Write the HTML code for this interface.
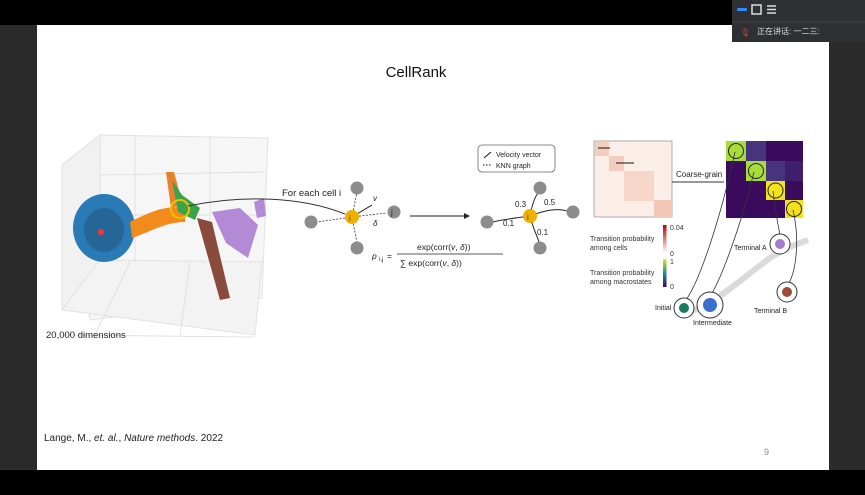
<!DOCTYPE html>
<html><head><meta charset="utf-8"><style>
html,body{margin:0;padding:0;background:#000;}
body{width:865px;height:495px;overflow:hidden;position:relative;font-family:"Liberation Sans","Noto Sans CJK SC",sans-serif;}
svg{position:absolute;left:0;top:0;}
</style></head><body>
<svg width="865" height="495" viewBox="0 0 865 495">
<rect x="0" y="0" width="865" height="495" fill="#000"/>
<rect x="0" y="25" width="37" height="445" fill="#2a2a2a"/>
<rect x="829" y="25" width="36" height="445" fill="#2b2b2b"/>
<rect x="37" y="25" width="792" height="445" fill="#fff"/>
<text x="416" y="77" font-size="15" text-anchor="middle" fill="#111">CellRank</text>

<g>
<polygon points="62,165 100,135 268,138 262,298 90,320" fill="#f6f6f6" stroke="#e2e2e2"/>
<polygon points="62,165 100,135 100,260 62,310" fill="#f1f1f1" stroke="#e2e2e2"/>
<polygon points="62,310 100,260 262,262 255,335" fill="#f3f3f3" stroke="#e2e2e2"/>
<g stroke="#dcdcdc" stroke-width="0.8" fill="none">
<line x1="135" y1="135" x2="135" y2="262"/><line x1="210" y1="136" x2="210" y2="262"/>
<line x1="100" y1="175" x2="265" y2="172"/><line x1="100" y1="215" x2="264" y2="215"/>
<line x1="62" y1="335" x2="255" y2="337"/><line x1="95" y1="335" x2="130" y2="262"/><line x1="180" y1="336" x2="190" y2="262"/>
</g>
<ellipse cx="104" cy="228" rx="31" ry="34" fill="#2a7ab5"/>
<ellipse cx="104" cy="230" rx="20" ry="22" fill="#1f4e72" opacity="0.45"/>
<path d="M130 222 C150 212,165 205,185 208 L185 222 C165 222,150 232,132 238 Z" fill="#f28a1c"/>
<path d="M166 172 L174 172 L183 205 L171 208 Z" fill="#e8812a"/>
<path d="M172 180 L182 195 L200 208 L195 220 L178 212 Z" fill="#3ba34a"/>
<path d="M197 218 L212 222 L230 298 L220 300 Z" fill="#8a4a3c"/>
<path d="M212 212 L240 208 L258 225 L248 258 L226 243 Z" fill="#b28ad6"/>
<path d="M254 202 L264 198 L266 216 L257 218 Z" fill="#b28ad6"/>
<circle cx="101" cy="232" r="3" fill="#f33"/>
<circle cx="180" cy="209" r="9" fill="none" stroke="#f0c000" stroke-width="2"/>
</g>
<text x="46" y="338" font-size="9.5" fill="#222">20,000 dimensions</text>
<path d="M188 206 C240 195,300 196,345 214" fill="none" stroke="#333" stroke-width="1"/>
<text x="282" y="196" font-size="9.5" fill="#222">For each cell i</text>

<g font-size="8" fill="#222">
<g stroke="#333" stroke-dasharray="2,1.5" stroke-width="0.8">
<line x1="352" y1="217" x2="357" y2="192"/><line x1="352" y1="217" x2="317" y2="222"/>
<line x1="352" y1="217" x2="357" y2="243"/><line x1="352" y1="217" x2="386" y2="213"/>
</g>
<line x1="352" y1="217" x2="372" y2="205" stroke="#111"/>
<circle cx="357" cy="188" r="6.5" fill="#8c8c8c"/><circle cx="311" cy="222" r="6.5" fill="#8c8c8c"/>
<circle cx="357" cy="248" r="6.5" fill="#8c8c8c"/><circle cx="394" cy="212" r="6.5" fill="#8c8c8c"/>
<circle cx="352" cy="217" r="7" fill="#f0b000"/>
<text x="349" y="221" fill="#333">i</text><text x="391" y="215">j</text>
<text x="373" y="201" font-style="italic">v</text><text x="373" y="226" font-style="italic">δ</text>
</g>
<line x1="410" y1="216" x2="466" y2="216" stroke="#222"/>
<polygon points="470,216 464,213 464,219" fill="#222"/>

<g font-size="8" fill="#222">
<g stroke="#222" fill="none"><path d="M530 216 C532 205,535 197,538 193"/><path d="M530 216 C545 210,558 208,567 211"/><path d="M530 216 C515 218,500 220,493 222"/><path d="M530 216 C533 228,537 236,539 242"/></g>
<circle cx="540" cy="188" r="6.5" fill="#8c8c8c"/><circle cx="487" cy="222" r="6.5" fill="#8c8c8c"/>
<circle cx="573" cy="212" r="6.5" fill="#8c8c8c"/><circle cx="540" cy="248" r="6.5" fill="#8c8c8c"/>
<circle cx="530" cy="216" r="7" fill="#f0b000"/><text x="527" y="220" fill="#333">i</text>
<text x="515" y="207">0.3</text><text x="544" y="205">0.5</text><text x="503" y="226">0.1</text><text x="537" y="235">0.1</text>
<rect x="478" y="145" width="77" height="27" rx="4" fill="#fff" stroke="#666" stroke-width="0.8"/>
<line x1="484" y1="158" x2="491" y2="152" stroke="#111"/><text x="496" y="157" font-size="7">Velocity vector</text>
<line x1="483" y1="165" x2="492" y2="165" stroke="#111" stroke-dasharray="1.5,1.5"/><text x="496" y="168" font-size="7">KNN graph</text>
</g>
<g font-size="8.5" fill="#222">
<text x="372" y="259" font-style="italic">p</text><text x="379" y="261" font-size="6">i,j</text><text x="387" y="259">=</text>
<text x="417" y="250">exp(corr(<tspan font-style="italic">v</tspan>, <tspan font-style="italic">δ</tspan>))</text>
<line x1="397" y1="254" x2="503" y2="254" stroke="#222" stroke-width="0.8"/>
<text x="400" y="266">∑ exp(corr(<tspan font-style="italic">v</tspan>, <tspan font-style="italic">δ</tspan>))</text>
</g>

<g>
<rect x="594" y="141" width="78" height="76" fill="#fbeee8" stroke="#999" stroke-width="0.8"/>
<rect x="595" y="142" width="14" height="14" fill="#f3cdbd"/><rect x="609" y="156" width="15" height="15" fill="#f3cdbd"/>
<rect x="624" y="171" width="30" height="30" fill="#f5d6c8"/><rect x="654" y="200" width="18" height="17" fill="#f3c8b6"/>
<line x1="598" y1="148" x2="610" y2="148" stroke="#111"/><line x1="616" y1="163" x2="634" y2="163" stroke="#111"/>
</g>
<text x="676" y="177" font-size="8" fill="#222">Coarse-grain</text>
<line x1="672" y1="182" x2="724" y2="182" stroke="#333"/>
<g id="macro"></g>

<g font-size="7" fill="#333">
<defs><linearGradient id="g1" x1="0" y1="1" x2="0" y2="0"><stop offset="0" stop-color="#fff"/><stop offset="1" stop-color="#b00"/></linearGradient>
<linearGradient id="g2" x1="0" y1="1" x2="0" y2="0"><stop offset="0" stop-color="#3b0a5a"/><stop offset="0.5" stop-color="#21908c"/><stop offset="1" stop-color="#e8e418"/></linearGradient></defs>
<rect x="663" y="225" width="3.5" height="28" fill="url(#g1)"/><rect x="663" y="259" width="3.5" height="28" fill="url(#g2)"/>
<text x="670" y="230">0.04</text><text x="670" y="256">0</text><text x="670" y="264">1</text><text x="670" y="289">0</text>
<text x="590" y="241">Transition probability</text><text x="590" y="250">among cells</text>
<text x="590" y="275">Transition probability</text><text x="590" y="284">among macrostates</text>
</g>

<g font-size="7" fill="#222">
<path d="M690 312 C720 300,740 280,770 258 C785 248,800 243,808 240" stroke="#dadada" stroke-width="6" fill="none"/>
<g stroke="#333" fill="none" stroke-width="0.8"><path d="M735 152 C720 220,700 280,686 300"/><path d="M754 172 C740 230,720 280,712 293"/><path d="M773 191 C775 210,778 225,780 235"/><path d="M793 210 C800 240,796 270,789 283"/></g>
<circle cx="780" cy="244" r="10" fill="#fff" stroke="#333"/><circle cx="780" cy="244" r="5" fill="#a57ac8"/>
<circle cx="787" cy="292" r="10" fill="#fff" stroke="#333"/><circle cx="787" cy="292" r="5" fill="#9b4a3c"/>
<circle cx="684" cy="308" r="10" fill="#fff" stroke="#333"/><circle cx="684" cy="308" r="5" fill="#1a7a5a"/>
<circle cx="710" cy="305" r="13" fill="#fff" stroke="#333"/><circle cx="710" cy="305" r="7" fill="#3a6fd0"/>
<text x="734" y="250">Terminal A</text><text x="754" y="313">Terminal B</text>
<text x="655" y="310">Initial</text><text x="693" y="325">Intermediate</text>
</g>

<text x="44" y="441" font-size="10" fill="#222">Lange, M., <tspan font-style="italic">et. al.</tspan>, <tspan font-style="italic">Nature methods</tspan>. 2022</text>
<text x="764" y="455" font-size="9" fill="#888">9</text>

<g>
<rect x="732" y="0" width="133" height="42" fill="#2e3034"/>
<line x1="732" y1="22" x2="865" y2="22" stroke="#444"/>
<rect x="737" y="8" width="10" height="3" rx="1" fill="#2a8cff"/>
<rect x="752" y="5" width="9" height="9" fill="none" stroke="#ddd" stroke-width="1.5"/>
<g stroke="#ddd" stroke-width="1.5"><line x1="767" y1="6" x2="776" y2="6"/><line x1="767" y1="9.5" x2="776" y2="9.5"/><line x1="767" y1="13" x2="776" y2="13"/></g>
<text x="740" y="35" font-size="8" fill="#c44">🎙</text>
<text x="757" y="34" font-size="8" fill="#ddd">正在讲话:  一二三:</text>
</g>
</svg>
<script>
const macroSizes=[20,20,19,18];
const macroValues=[[0.8,0.2,0.05,0.05],[0.05,0.8,0.15,0.1],[0.05,0.05,1,0.05],[0.05,0.05,0.05,1]];
const g=document.getElementById('macro');
const NS='http://www.w3.org/2000/svg';
function col(v){if(v>0.9)return '#f2e21c';if(v>0.6)return '#a8dc38';if(v>0.12)return '#46357c';if(v>0.07)return '#3f1e6e';return '#3a0b5c';}
let y=141;
for(let r=0;r<4;r++){let x=726;for(let c=0;c<4;c++){
const el=document.createElementNS(NS,'rect');
el.setAttribute('x',x);el.setAttribute('y',y);el.setAttribute('width',macroSizes[c]);el.setAttribute('height',macroSizes[r]);el.setAttribute('fill',col(macroValues[r][c]));


g.appendChild(el);
if(r===c){const ci=document.createElementNS(NS,'circle');ci.setAttribute('cx',x+macroSizes[c]/2);ci.setAttribute('cy',y+macroSizes[r]/2);ci.setAttribute('r',7.5);ci.setAttribute('fill','none');ci.setAttribute('stroke','#222');


g.appendChild(ci);}
x+=macroSizes[c];}y+=macroSizes[r];}
</script>
</body></html>
